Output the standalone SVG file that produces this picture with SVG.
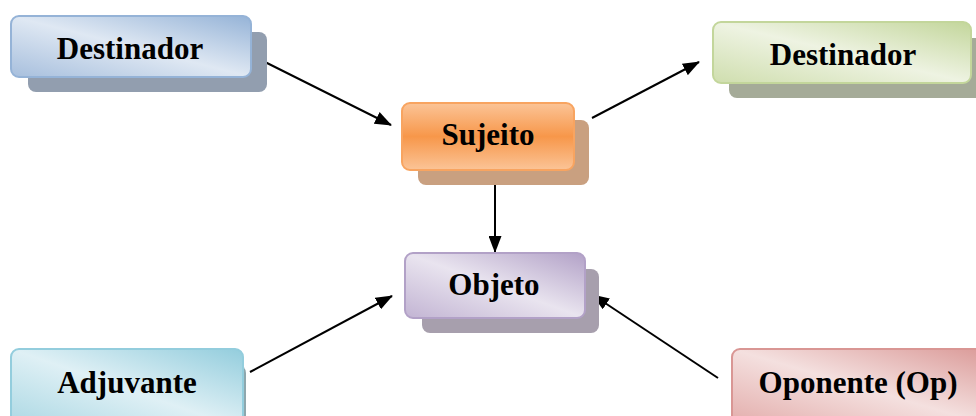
<svg xmlns="http://www.w3.org/2000/svg" width="976" height="416" viewBox="0 0 976 416">
  <style>
    .box { stroke-width: 2; }
    .shadow { stroke: none; }
    .label { font-family: "Liberation Serif", "Times New Roman", serif; font-weight: bold; font-size: 31px; fill: #000; text-anchor: middle; }
    .conn { stroke: #000; stroke-width: 2; fill: none; marker-end: url(#arrow); }
  </style>
  <defs>
    <marker id="arrow" viewBox="0 0 17 13" refX="16" refY="6.5" markerWidth="17" markerHeight="13" markerUnits="userSpaceOnUse" orient="auto">
      <path d="M0,0 L17,6.5 L0,13 Z" fill="#000"/>
    </marker>
    <linearGradient id="gBlue" x1="0" y1="1" x2="1" y2="0">
      <stop offset="0" stop-color="#a7bfdd"/>
      <stop offset="0.5" stop-color="#dfe8f3"/>
      <stop offset="1" stop-color="#95b3d7"/>
    </linearGradient>
    <linearGradient id="gGreen" x1="0" y1="1" x2="1" y2="0">
      <stop offset="0" stop-color="#cfdeae"/>
      <stop offset="0.5" stop-color="#eef3e2"/>
      <stop offset="1" stop-color="#c3d69b"/>
    </linearGradient>
    <linearGradient id="gOrange" x1="0" y1="0" x2="0" y2="1">
      <stop offset="0" stop-color="#fbc497"/>
      <stop offset="0.5" stop-color="#f7974a"/>
      <stop offset="1" stop-color="#fbc497"/>
    </linearGradient>
    <linearGradient id="gPurple" x1="0" y1="1" x2="1" y2="0">
      <stop offset="0" stop-color="#c2b4d3"/>
      <stop offset="0.5" stop-color="#e9e4ef"/>
      <stop offset="1" stop-color="#b2a1c7"/>
    </linearGradient>
    <linearGradient id="gAqua" x1="0" y1="1" x2="1" y2="0">
      <stop offset="0" stop-color="#a9d7e3"/>
      <stop offset="0.5" stop-color="#dff0f5"/>
      <stop offset="1" stop-color="#93cddd"/>
    </linearGradient>
    <linearGradient id="gRed" x1="0" y1="1" x2="1" y2="0">
      <stop offset="0" stop-color="#e2aaa8"/>
      <stop offset="0.5" stop-color="#f4e0df"/>
      <stop offset="1" stop-color="#d99694"/>
    </linearGradient>
  </defs>

  <!-- connectors -->
  <g id="connectors">
    <line class="conn" x1="265" y1="62" x2="391" y2="125"/>
    <line class="conn" x1="592" y1="118" x2="699" y2="62"/>
    <line class="conn" x1="495" y1="175" x2="495" y2="252"/>
    <line class="conn" x1="250" y1="372" x2="392" y2="296"/>
    <line class="conn" x1="718" y1="378" x2="593" y2="295"/>
  </g>

  <g id="destinador-left">
    <rect class="shadow" x="28" y="32" width="239" height="60" rx="8" fill="#929eaf"/>
    <rect class="box" x="11" y="16" width="240" height="61" rx="8" fill="url(#gBlue)" stroke="#95b3d7"/>
    <text class="label" x="130" y="59">Destinador</text>
  </g>

  <g id="sujeito">
    <rect class="shadow" x="418" y="120" width="171" height="65" rx="8" fill="#c9a080"/>
    <rect class="box" x="402" y="103" width="172" height="67" rx="8" fill="url(#gOrange)" stroke="#f8a460"/>
    <text class="label" x="488" y="145">Sujeito</text>
  </g>

  <g id="destinador-right">
    <rect class="shadow" x="729" y="38" width="260" height="60" rx="8" fill="#a5ab98"/>
    <rect class="box" x="713" y="22" width="258" height="61" rx="8" fill="url(#gGreen)" stroke="#c3d69b"/>
    <text class="label" x="843" y="65">Destinador</text>
  </g>

  <g id="objeto">
    <rect class="shadow" x="422" y="269" width="177" height="64" rx="8" fill="#a79fad"/>
    <rect class="box" x="405" y="253" width="180" height="65" rx="8" fill="url(#gPurple)" stroke="#b2a1c7"/>
    <text class="label" x="494" y="295">Objeto</text>
  </g>

  <g id="adjuvante">
    <rect class="shadow" x="27" y="365" width="219" height="70" rx="8" fill="#8ea7ad"/>
    <rect class="box" x="11" y="349" width="232" height="80" rx="8" fill="url(#gAqua)" stroke="#93cddd"/>
    <text class="label" x="127" y="393">Adjuvante</text>
  </g>

  <g id="oponente">
    <rect class="shadow" x="748" y="365" width="260" height="70" rx="8" fill="#ad9191"/>
    <rect class="box" x="732" y="349" width="270" height="80" rx="8" fill="url(#gRed)" stroke="#d99694"/>
    <text class="label" x="858" y="393">Oponente (Op)</text>
  </g>
</svg>
